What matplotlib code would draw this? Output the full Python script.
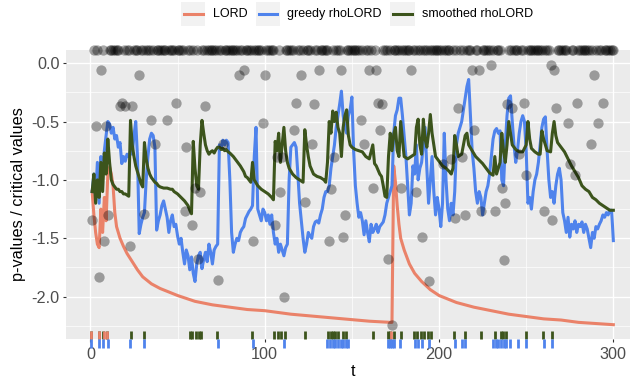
import matplotlib
matplotlib.use('Agg')
import matplotlib.pyplot as plt
import matplotlib.transforms as mtransforms
from matplotlib.patches import Rectangle
from matplotlib.lines import Line2D

plt.rcParams['font.family'] = ['Liberation Sans', 'DejaVu Sans']

# ---------------- data ----------------
lord_t = [1, 2, 3, 4, 5, 6, 7, 8, 9, 10, 11, 12, 13, 14, 15, 17, 19, 21, 24, 27, 30, 35, 40, 45, 50,
          60, 70, 80, 90, 100, 115, 130, 145, 160, 172, 173, 174, 175, 176, 177, 178, 180, 183, 186,
          190, 195, 200, 210, 220, 230, 240, 250, 260, 270, 280, 290, 300]
lord_y = [-1.10, -1.30, -1.45, -1.55, -1.58, -1.25, -1.45, -1.15, -1.35, -0.95, -0.89, -0.95, -1.05,
          -1.28, -1.40, -1.50, -1.57, -1.63, -1.70, -1.77, -1.83, -1.89, -1.93, -1.96, -1.99,
          -2.04, -2.07, -2.09, -2.11, -2.12, -2.15, -2.17, -2.19, -2.21, -2.22, -2.22, -0.88, -1.02,
          -1.22, -1.38, -1.50, -1.60, -1.72, -1.80, -1.87, -1.94, -1.99, -2.05, -2.09, -2.12, -2.15,
          -2.17, -2.19, -2.20, -2.22, -2.23, -2.24]

greedy_t = list(range(1, 301))
greedy_y = [
    -1.10, -0.95, -1.15, -0.85, -1.20, -0.80, -0.95, -0.75, -0.62, -0.50,
    -0.52, -0.60, -0.55, -0.65, -0.62, -0.72, -0.68, -0.86, -0.80, -0.84,
    -0.78, -0.80, -0.75, -0.78, -0.62, -0.50, -0.80, -1.46, -1.38, -1.32,
    -1.28, -1.00, -0.80, -0.65, -0.60, -0.62, -0.72, -1.43, -1.35, -1.30,
    -1.22, -1.18, -1.25, -1.32, -1.45, -1.35, -1.30, -1.40, -1.38, -1.48,
    -1.55, -1.50, -1.62, -1.72, -1.60, -1.65, -1.77, -1.66, -1.80, -1.87,
    -1.72, -1.65, -1.62, -1.76, -1.68, -1.62, -1.70, -1.55, -1.62, -1.72,
    -1.60, -1.57, -1.55, -0.70, -0.72, -0.66, -0.70, -0.66, -0.68, -1.00,
    -1.45, -1.62, -1.55, -1.50, -1.52, -1.45, -1.42, -1.40, -1.33, -1.30,
    -1.27, -1.25, -1.22, -0.80, -0.55, -1.25, -1.30, -1.35, -1.25, -1.28,
    -1.35, -1.30, -1.38, -1.30, -1.45, -1.55, -1.50, -1.62, -1.55, -1.60,
    -1.65, -1.58, -1.55, -1.00, -0.72, -0.70, -0.68, -0.72, -0.95, -1.20,
    -1.35, -1.50, -1.62, -1.55, -1.45, -1.48, -1.50, -1.40, -1.36, -1.35,
    -1.37, -1.30, -1.25, -1.15, -1.10, -1.10, -1.05, -0.90, -0.80, -0.70,
    -0.55, -0.45, -0.35, -0.24, -0.45, -0.55, -0.60, -0.45, -0.40, -0.29,
    -0.75, -1.05, -1.20, -1.32, -1.28, -1.35, -1.47, -1.35, -1.45, -1.53,
    -1.38, -1.45, -1.42, -1.38, -1.45, -1.40, -1.38, -1.36, -1.30, -1.20,
    -1.15, -1.10, -1.05, -0.60, -0.45, -0.40, -0.30, -0.30, -0.45, -0.62,
    -0.80, -1.05, -1.30, -1.20, -0.88, -0.95, -0.70, -1.00, -0.90, -0.85,
    -0.70, -0.55, -0.90, -1.20, -1.00, -0.80, -1.10, -1.30, -1.15, -1.25,
    -1.40, -1.20, -0.60, -1.00, -1.25, -1.35, -1.20, -1.30, -1.10, -0.70,
    -0.60, -0.55, -0.50, -0.40, -0.30, -0.20, -0.14, -0.45, -0.75, -0.90,
    -1.10, -1.20, -1.10, -1.15, -1.30, -1.20, -1.10, -1.05, -0.95, -0.80,
    -0.65, -0.58, -0.56, -0.60, -0.58, -1.00, -1.05, -0.70, -0.45, -0.30,
    -0.28, -0.50, -0.70, -0.85, -0.75, -0.60, -0.50, -0.45, -0.50, -0.75,
    -1.20, -1.15, -1.25, -1.10, -1.00, -0.95, -0.85, -0.70, -0.55, -0.48,
    -0.46, -0.75, -1.00, -1.15, -1.10, -1.20, -1.05, -0.95, -0.90, -1.00,
    -1.28, -1.35, -1.45, -1.32, -1.49, -1.38, -1.42, -1.35, -1.45, -1.38,
    -1.40, -1.36, -1.45, -1.38, -1.42, -1.50, -1.58, -1.45, -1.50, -1.40,
    -1.42, -1.38, -1.35, -1.30, -1.32, -1.28, -1.30, -1.26, -1.26, -1.52]

smooth_t = [1, 2, 3, 4, 5, 6, 7, 8, 9, 10, 11, 12, 13, 14, 15, 16, 17, 18, 19, 20, 21, 22, 23, 24,
            25, 26, 27, 28, 29, 30, 31, 32, 33, 34, 35, 36, 37, 38, 39, 40, 42, 44, 46, 47, 48, 50,
            52, 54, 56, 57, 58, 59, 60, 61, 62, 63, 64, 65, 66, 67, 68, 69, 70, 71, 72, 73, 74, 75,
            76, 77, 78, 79, 80, 82, 84, 86, 88, 89, 90, 92, 93, 94, 96, 98, 100, 102, 104, 105, 106,
            107, 108, 109, 110, 111, 112, 113, 114, 116, 118, 120, 122, 123, 124, 125, 126, 128, 130,
            132, 134, 135, 136, 137, 138, 139, 140, 141, 142, 143, 144, 145, 146, 147, 148, 149, 150,
            152, 154, 156, 158, 160, 162, 163, 164, 166, 167, 168, 169, 170, 171, 172, 173, 174, 175,
            176, 177, 178, 179, 180, 182, 184, 186, 187, 188, 189, 190, 191, 192, 193, 194, 195, 196,
            198, 200, 202, 204, 206, 207, 208, 209, 210, 211, 213, 215, 216, 217, 219, 221, 223, 225,
            227, 229, 231, 232, 233, 235, 236, 237, 238, 239, 240, 241, 242, 244, 246, 248, 250, 251,
            252, 253, 255, 257, 258, 259, 260, 262, 264, 265, 266, 267, 268, 270, 272, 274, 276, 278,
            280, 282, 284, 286, 288, 290, 292, 294, 296, 298, 300]
smooth_y = [-1.10, -0.95, -1.20, -1.00, -1.15, -0.85, -1.10, -0.77, -0.95, -0.65, -0.85, -1.00,
            -1.04, -1.06, -1.08, -1.08, -1.10, -1.10, -1.12, -1.12, -1.13, -1.14, -0.49, -0.70,
            -0.80, -0.88, -0.93, -0.98, -1.03, -1.06, -0.68, -0.82, -0.90, -0.95, -0.98, -1.00,
            -1.02, -1.03, -1.05, -1.06, -1.07, -1.07, -1.08, -1.08, -1.10, -1.12, -1.15, -1.18,
            -1.22, -1.26, -1.29, -0.67, -0.90, -1.05, -1.08, -0.70, -0.49, -0.60, -0.70, -0.75,
            -0.78, -0.76, -0.75, -0.77, -0.74, -0.72, -0.72, -0.74, -0.73, -0.75, -0.74, -0.76,
            -0.77, -0.80, -0.84, -0.88, -0.93, -0.97, -0.98, -1.02, -0.85, -1.00, -1.05, -1.08,
            -1.10, -1.12, -1.15, -1.17, -0.67, -0.75, -0.60, -0.85, -0.70, -0.55, -0.75, -0.85,
            -0.90, -0.95, -0.98, -1.00, -1.02, -0.57, -0.70, -0.80, -0.88, -0.95, -0.97, -0.98,
            -1.00, -1.02, -0.85, -0.50, -0.60, -0.41, -0.50, -0.42, -0.55, -0.60, -0.80, -0.55,
            -0.45, -0.40, -0.62, -0.70, -0.72, -0.74, -0.75, -0.76, -0.80, -0.82, -0.70, -0.86,
            -0.88, -0.95, -0.97, -1.05, -1.14, -1.15, -0.80, -0.60, -0.75, -0.61, -0.55, -0.75,
            -0.80, -0.50, -0.65, -0.80, -0.82, -0.80, -0.78, -0.55, -0.48, -0.70, -0.78, -0.48,
            -0.65, -0.72, -0.60, -0.44, -0.60, -0.80, -0.84, -0.88, -0.90, -0.93, -0.95, -0.90,
            -0.62, -0.70, -0.80, -0.78, -0.62, -0.60, -0.70, -0.75, -0.80, -0.83, -0.86, -0.90,
            -0.94, -0.96, -0.80, -0.95, -0.85, -0.60, -0.75, -0.85, -0.70, -0.50, -0.60, -0.70,
            -0.74, -0.76, -0.76, -0.70, -0.50, -0.65, -0.73, -0.76, -0.78, -0.78, -0.58, -0.65,
            -0.75, -0.76, -0.60, -0.50, -0.62, -0.68, -0.72, -0.76, -0.82, -0.88, -0.93, -0.98,
            -1.05, -1.08, -1.10, -1.15, -1.17, -1.20, -1.22, -1.24, -1.26, -1.26]

# p-values visible inside the panel
pv_t = [1, 3, 5, 6, 8, 9, 10, 17, 18, 20, 23, 24, 28, 31, 35, 37, 44, 49, 54, 55, 58, 60, 62, 63,
        66, 73, 76, 85, 88, 93, 99, 100, 106, 107, 110, 109, 111, 117, 118, 121, 123, 127, 128, 131,
        137, 138, 140, 144, 145, 146, 155, 157, 160, 162, 164, 165, 166, 167, 171, 173, 178, 184,
        187, 190, 194, 202, 207, 209, 211, 213, 215, 219, 220, 223, 224, 230, 232, 236, 237, 238,
        239, 242, 246, 249, 250, 260, 264, 265, 266, 267, 274, 275, 278, 279, 287, 289, 291, 294]
pv_y = [-1.34, -0.54, -1.83, -0.06, -1.52, -0.54, -1.30, -0.37, -0.34, -0.37, -1.57, -0.37,
        -0.10, -1.29, -0.49, -0.69, -0.49, -0.34, -1.27, -0.72, -1.39, -1.07, -1.68, -1.10,
        -0.37, -1.86, -0.69, -0.10, -0.06, -1.52, -0.51, -0.10, -1.39, -0.80, -0.80, -1.10, -2.00,
        -0.57, -0.34, -0.10, -1.19, -0.69, -0.35, -0.06,
        -1.52, -1.08, -0.80, -0.06, -1.49, -1.30, -0.49, -0.69, -0.06, -1.07, -0.06, -0.34,
        -0.57, -0.35, -1.68, -2.24, -1.07, -0.06,
        -1.10, -1.49, -1.87, -0.86, -0.82, -1.33, -0.38, -0.80, -1.30, -0.06, -0.57, -0.06,
        -1.27, -0.02, -1.27, -1.07, -1.69, -1.20,
        -0.35, -0.38, -0.78, -0.34, -0.96, -1.27, -0.02, -1.34, -0.06, -0.38, -0.51, -0.86,
        -0.96, -0.34, -0.69, -0.10, -0.51, -0.34]
# all other time points: p-values above the panel (drawn at the top edge)
all_t = list(range(1, 301))
top_t = [t for t in all_t if t not in set(pv_t)]

# rejection times (rug)
rug_lord = [0.6, 4.8, 7.7, 9.5, 172.6]
rug_smooth = [0.6, 4.7, 7.4, 9.8, 23.1, 30.9, 57.3, 58.5, 60.4, 62.4, 63.5, 72.7, 92.7, 105.4,
              107.5, 109.5, 111.6, 123.0, 136.5, 137.8, 139.2, 140.6, 141.9, 144.7, 146.4, 161.9,
              170.5, 172.0, 174.0, 178.1, 185.7, 187.3, 189.4, 191.4, 193.4, 195.5, 208.8, 214.9,
              224.2, 231.9, 235.4, 236.8, 238.5, 249.7, 259.4, 264.7]
rug_greedy = [0.5, 4.7, 7.5, 10.0, 23.0, 31.0, 73.0, 93.0, 111.0, 136.0, 137.5, 139.0, 140.5,
              142.0, 143.5, 145.0, 146.5, 148.0, 171.0, 172.0, 173.0, 174.0, 177.5, 186.0, 188.0,
              190.0, 194.5, 209.0, 213.0, 215.0, 231.0, 232.5, 234.0, 235.5, 237.0, 238.5, 240.5,
              245.5, 250.0, 260.0, 265.0]

x_ticks = [0, 100, 200, 300]
y_ticks = [0.0, -0.5, -1.0, -1.5, -2.0]
y_ticklabels = ['0.0', '-0.5', '-1.0', '-1.5', '-2.0']
series_names = ['LORD', 'greedy rhoLORD', 'smoothed rhoLORD']
series_colors = ['#EA8269', '#4F83EC', '#3C541C']

# ---------------- figure ----------------
W, H = 630, 381
fig = plt.figure(figsize=(W / 100, H / 100), dpi=100)
fig.patch.set_facecolor('white')


def fx(px):
    return px / W


def fy(py):
    return 1 - py / H


ax = fig.add_axes([fx(66), fy(339), (639.5 - 66) / W, (339 - 50) / H])
ax.set_facecolor('#EBEBEB')
ax.set_xlim(-14.0, 315.0)
ax.set_ylim(-2.3625, 0.1125)
for s in ax.spines.values():
    s.set_visible(False)

ax.set_xticks(x_ticks)
ax.set_xticks([50, 150, 250], minor=True)
ax.set_yticks(y_ticks)
ax.set_yticklabels(y_ticklabels)
ax.set_yticks([-0.25, -0.75, -1.25, -1.75, -2.25], minor=True)
ax.grid(which='major', color='white', linewidth=1.0)
ax.grid(which='minor', color='white', linewidth=0.5)
ax.set_axisbelow(True)
ax.tick_params(which='major', length=2.5, width=0.8, color='#333333', labelcolor='#4D4D4D',
               labelsize=11.7, pad=2)
ax.tick_params(axis='x', which='major', pad=3)
ax.tick_params(which='minor', length=0)

lw = 2.2
ax.plot(lord_t, lord_y, color=series_colors[0], lw=lw, solid_joinstyle='round', zorder=3)
ax.plot(greedy_t, greedy_y, color=series_colors[1], lw=lw, solid_joinstyle='round', zorder=3)
ax.plot(smooth_t, smooth_y, color=series_colors[2], lw=lw, solid_joinstyle='round', zorder=3)

ax.scatter(pv_t, pv_y, s=55, color='black', alpha=0.34, linewidths=0, zorder=4, clip_on=False)
trans_top = mtransforms.blended_transform_factory(ax.transData, ax.transAxes)
ax.scatter(top_t, [1.0] * len(top_t), s=55, color='black', alpha=0.34, linewidths=0, zorder=4,
           clip_on=False, transform=trans_top)

# rugs
rug_lw = 2.0
ax.vlines(rug_smooth, 0, 0.028, transform=trans_top, color=series_colors[2], lw=rug_lw,
          clip_on=False, zorder=5)
ax.vlines(rug_lord, 0, 0.028, transform=trans_top, color=series_colors[0], lw=rug_lw,
          clip_on=False, zorder=5)
ax.vlines(rug_greedy, -0.031, 0, transform=trans_top, color=series_colors[1], lw=rug_lw,
          clip_on=False, zorder=5)

# axis titles
fig.text(fx(19), fy(194.5), 'p-values / critical values', rotation=90, ha='center',
         va='center', fontsize=11.7, color='black')
fig.text(fx(353), fy(372), 't', ha='center', va='center', fontsize=11.7, color='black')

# legend (ggplot style, top)
key_x = [181, 255.5, 390]
text_x = [213, 287, 422]
for name, col, kx, tx in zip(series_names, series_colors, key_x, text_x):
    fig.patches.append(Rectangle((fx(kx), fy(26)), 24.5 / W, 24 / H, transform=fig.transFigure,
                                 facecolor='#F2F2F2', edgecolor='none'))
    fig.lines.append(Line2D([fx(kx + 3), fx(kx + 21.5)], [fy(14), fy(14)],
                            transform=fig.transFigure, color=col, lw=2.2))
    fig.text(fx(tx), fy(14), name, ha='left', va='center', fontsize=9, color='black')

fig.savefig('out.png', dpi=100, facecolor='white')
